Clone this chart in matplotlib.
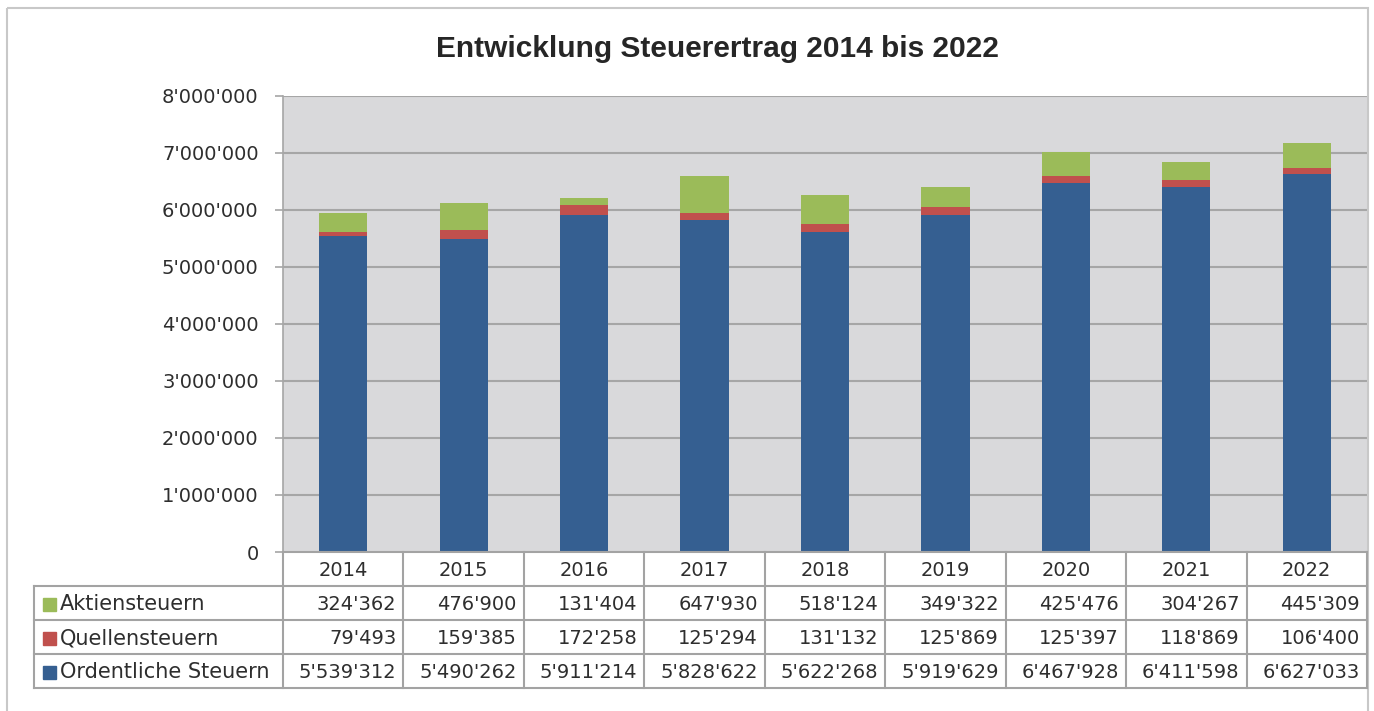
import matplotlib
matplotlib.use("Agg")
import matplotlib.pyplot as plt
from matplotlib.patches import Rectangle
import numpy as np

years = ["2014", "2015", "2016", "2017", "2018", "2019", "2020", "2021", "2022"]
ordentliche = [5539312, 5490262, 5911214, 5828622, 5622268, 5919629, 6467928, 6411598, 6627033]
quellen = [79493, 159385, 172258, 125294, 131132, 125869, 125397, 118869, 106400]
aktien = [324362, 476900, 131404, 647930, 518124, 349322, 425476, 304267, 445309]
series_names = ["Aktiensteuern", "Quellensteuern", "Ordentliche Steuern"]
yticks = [0, 1000000, 2000000, 3000000, 4000000, 5000000, 6000000, 7000000, 8000000]
title = "Entwicklung Steuerertrag 2014 bis 2022"

C_BLUE = "#355F91"
C_RED = "#C0504D"
C_GREEN = "#9BBB59"
GRID = "#A6A6A6"
FONT = "DejaVu Sans"
TXT = "#2E2E2E"

W, H = 1374, 711
fig = plt.figure(figsize=(W / 100, H / 100), dpi=100)
fig.patch.set_facecolor("white")

def fx(px):
    return px / W

def fy(py):
    return 1 - py / H

def fmt(v):
    return f"{v:,}".replace(",", "'")

L, R, T, B = 283, 1367, 96, 552
ax = fig.add_axes([fx(L), fy(B), fx(R - L), (B - T) / H])
ax.set_facecolor("#D9D9DB")
x = np.arange(len(years))
ax.bar(x, ordentliche, width=0.4, color=C_BLUE, zorder=3)
ax.bar(x, quellen, width=0.4, bottom=ordentliche, color=C_RED, zorder=3)
bot2 = [a + b for a, b in zip(ordentliche, quellen)]
ax.bar(x, aktien, width=0.4, bottom=bot2, color=C_GREEN, zorder=3)
ax.set_xlim(-0.5, len(years) - 0.5)
ax.set_ylim(0, 8000000)
ax.set_yticks(yticks)
ax.set_yticklabels([fmt(v) for v in yticks], fontsize=14, family=FONT, color=TXT)
ax.set_xticks([])
for v in yticks[1:]:
    ax.axhline(v, color=GRID, lw=1.5, zorder=1)
ax.tick_params(axis="y", length=5.5, width=1.2, color=GRID, pad=12)
for s in ["top", "right", "bottom"]:
    ax.spines[s].set_visible(False)
ax.spines["left"].set_color(GRID)
ax.spines["left"].set_linewidth(1.2)

# title, scaled to the reference width
t = fig.text(fx(717), fy(57), title, ha="center", va="baseline", fontsize=18,
             fontweight="bold", family="Liberation Sans", color="#262626")
fig.canvas.draw()
wpx = t.get_window_extent(renderer=fig.canvas.get_renderer()).width
t.set_fontsize(18 * 562 / wpx)

# table overlay axes in pixel coordinates
tab = fig.add_axes([0, 0, 1, 1], zorder=5)
tab.set_xlim(0, W)
tab.set_ylim(H, 0)
tab.axis("off")
tab.patch.set_alpha(0)

LC = 34
rows_y = [552, 586, 620, 654, 688]
ncol = len(years)
colw = (R - L) / ncol
bounds = [L + i * colw for i in range(ncol + 1)]
TC = "#A3A3A3"
tab.plot([L, R], [rows_y[0], rows_y[0]], color=TC, lw=1.5)
for yy in rows_y[1:]:
    tab.plot([LC, R], [yy, yy], color=TC, lw=1.5)
for bx in bounds:
    tab.plot([bx, bx], [rows_y[0], rows_y[-1]], color=TC, lw=1.5)
tab.plot([LC, LC], [rows_y[1], rows_y[-1]], color=TC, lw=1.5)

for i, yr in enumerate(years):
    cx = (bounds[i] + bounds[i + 1]) / 2
    tab.text(cx, 570, yr, ha="center", va="center",
             fontsize=14, family=FONT, color=TXT)

table_vals = [aktien, quellen, ordentliche]
cols = [C_GREEN, C_RED, C_BLUE]
for r, (name, vals, c) in enumerate(zip(series_names, table_vals, cols)):
    cy = (rows_y[r + 1] + rows_y[r + 2]) / 2 + 1.5
    tab.add_patch(Rectangle((43, cy - 6.5), 13, 13, color=c))
    tab.text(60, cy, name, ha="left", va="center", fontsize=15, family=FONT, color=TXT)
    for i, v in enumerate(vals):
        tab.text(bounds[i + 1] - 7, cy, fmt(v), ha="right", va="center",
                 fontsize=14, family=FONT, color=TXT)

tab.add_patch(Rectangle((7, 8), 1361, 720, fill=False, edgecolor="#C8C8C8", lw=1.5))

fig.savefig("out.png", dpi=100)
